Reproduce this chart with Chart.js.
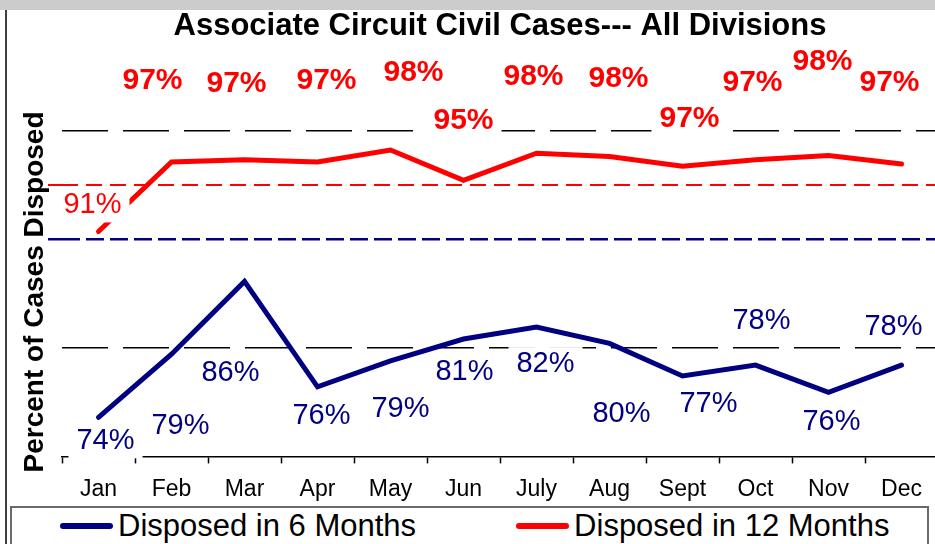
<!DOCTYPE html>
<html>
<head>
<meta charset="utf-8">
<title>Associate Circuit Civil Cases</title>
<script src="https://cdn.jsdelivr.net/npm/chart.js@4.4.1/dist/chart.umd.min.js"></script>
<style>
    html, body { margin: 0; padding: 0; background: #fff; overflow: hidden; }
    .wrap { position: relative; width: 938px; height: 544px; }
    #legend {
        position: absolute; left: 10px; top: 506px; width: 919px; height: 40px;
        box-sizing: border-box; border: 2px solid #6a6a6a; background: #fff;
        display: flex; align-items: center; padding-left: 48px;
        font-family: "Liberation Sans", Arial, sans-serif; font-size: 31px; color: #000;
    }
    #legend .item { display: flex; align-items: center; white-space: nowrap; }
    #legend .item + .item { margin-left: 100px; }
    #legend .swatch { width: 53px; height: 6px; border-radius: 3px; margin-right: 5px; }
</style>
</head>
<body>
<div class="wrap">
    <canvas id="line-chart" width="938" height="544"></canvas>
    <div id="legend"></div>
</div>
<script>
(function () {
    "use strict";

    // Data
    var months = ["Jan", "Feb", "Mar", "Apr", "May", "Jun", "July", "Aug", "Sept", "Oct", "Nov", "Dec"];
    var disposed6 = [73.6, 79.4, 86.1, 76.4, 78.8, 80.8, 81.9, 80.4, 77.4, 78.4, 75.9, 78.4];
    var disposed12 = [90.7, 97.1, 97.3, 97.1, 98.2, 95.4, 97.9, 97.6, 96.7, 97.3, 97.7, 96.9];
    var yMin = 70;
    var yMax = 106;

    // Label placement, pixels away from each point
    var offset6 = [[7, 24], [9, 72], [-14, 92], [4, 29], [10, 48], [1, 33], [9, 37], [12, 71], [26, 28], [6, -44], [3, 30], [-8, -38]];
    var offset12 = [[-6, -26], [-19, -81], [-8, -76], [9, -81], [23, -77], [0, -60], [-3, -76], [9, -78], [7, -48], [-3, -77], [-6, -94], [-12, -81]];
    var bold6 = [false, false, false, false, false, false, false, false, false, false, false, false];
    var bold12 = [false, true, true, true, true, true, true, true, true, true, true, true];

    var fontFamily = '"Liberation Sans", Arial, sans-serif';

    // Dashed reference lines
    var gridStyle = {
        80: { color: "#000000", width: 1.5, dash: [46, 15], edge: false },
        90: { color: "#000080", width: 2.5, dash: [18, 6], edge: true },
        95: { color: "#ff0000", width: 2, dash: [16, 8], edge: true },
        100: { color: "#000000", width: 1.5, dash: [46, 15], edge: false }
    };
    function styleFor(c) {
        return c && c.tick ? gridStyle[c.tick.value] : null;
    }

    // Point labels with white boxes
    var pointLabels = {
        id: "pointLabels",
        afterDatasetsDraw: function (chart) {
            var ctx = chart.ctx;
            ctx.save();
            ctx.textAlign = "center";
            ctx.textBaseline = "middle";
            chart.data.datasets.forEach(function (ds, i) {
                var meta = chart.getDatasetMeta(i);
                meta.data.forEach(function (pt, j) {
                    var text = Math.round(ds.data[j]) + "%";
                    ctx.font = (ds.labelBold[j] ? "bold 30px " : "29px ") + fontFamily;
                    var w = ctx.measureText(text).width + 16;
                    var x = pt.x + ds.labelOffset[j][0];
                    var y = pt.y + ds.labelOffset[j][1];
                    ctx.fillStyle = "#ffffff";
                    ctx.fillRect(x - w / 2, y - 17, w, 34);
                    ctx.fillStyle = ds.borderColor;
                    ctx.fillText(text, x, y);
                });
            });
            ctx.restore();
        }
    };

    // Frame, top band and the y axis title
    var frame = {
        id: "frame",
        beforeDraw: function (chart) {
            var ctx = chart.ctx;
            ctx.save();
            ctx.fillStyle = "#ffffff";
            ctx.fillRect(0, 0, chart.width, chart.height);
            ctx.fillStyle = "#cccccc";
            ctx.fillRect(0, 0, chart.width, 10);
            ctx.restore();
        },
        afterDraw: function (chart) {
            var ctx = chart.ctx;
            ctx.save();
            ctx.strokeStyle = "#404040";
            ctx.lineWidth = 2;
            ctx.beginPath();
            ctx.moveTo(6, 10);
            ctx.lineTo(6, chart.height);
            ctx.stroke();

            ctx.translate(35, 292);
            ctx.rotate(-Math.PI / 2);
            ctx.font = "bold 28px " + fontFamily;
            ctx.fillStyle = "#000000";
            ctx.textAlign = "center";
            ctx.textBaseline = "middle";
            ctx.fillText("Percent of Cases Disposed", 0, 0);
            ctx.restore();
        }
    };

    var ctx1 = document.getElementById("line-chart").getContext("2d");
    var myChart1 = new Chart(ctx1, {
        type: "line",
        data: {
            labels: months,
            datasets: [{
                label: "Disposed in 6 Months",
                data: disposed6,
                borderColor: "#000080",
                backgroundColor: "#000080",
                borderWidth: 5,
                borderCapStyle: "round",
                pointRadius: 0,
                tension: 0,
                fill: false,
                labelOffset: offset6,
                labelBold: bold6
            }, {
                label: "Disposed in 12 Months",
                data: disposed12,
                borderColor: "#ff0000",
                backgroundColor: "#ff0000",
                borderWidth: 5,
                borderCapStyle: "round",
                pointRadius: 0,
                tension: 0,
                fill: false,
                labelOffset: offset12,
                labelBold: bold12
            }]
        },
        options: {
            responsive: false,
            animation: false,
            devicePixelRatio: 1,
            layout: { padding: { left: 48, right: 0, top: 0, bottom: 29 } },
            plugins: {
                legend: { display: false },
                tooltip: { enabled: false },
                title: {
                    display: true,
                    fullSize: false,
                    text: "Associate Circuit Civil Cases--- All Divisions",
                    color: "#000000",
                    font: { family: fontFamily, size: 31, weight: "bold" },
                    padding: { top: 8, bottom: 20 }
                }
            },
            scales: {
                x: {
                    offset: true,
                    grid: {
                        offset: true,
                        drawOnChartArea: false,
                        drawTicks: true,
                        tickLength: 7,
                        tickColor: "#000000",
                        tickWidth: 1.5
                    },
                    border: { display: true, color: "#000000", width: 1.5 },
                    ticks: {
                        color: "#000000",
                        font: { family: fontFamily, size: 23 },
                        padding: 12,
                        maxRotation: 0,
                        autoSkip: false
                    }
                },
                y: {
                    min: yMin,
                    max: yMax,
                    ticks: { display: false, stepSize: 5 },
                    grid: {
                        drawTicks: true,
                        tickLength: 14,
                        color: function (c) {
                            var s = styleFor(c);
                            return s ? s.color : "rgba(0,0,0,0)";
                        },
                        lineWidth: function (c) {
                            var s = styleFor(c);
                            return s ? s.width : 0;
                        },
                        tickColor: function (c) {
                            var s = styleFor(c);
                            return s && s.edge ? s.color : "rgba(0,0,0,0)";
                        },
                        tickWidth: function (c) {
                            var s = styleFor(c);
                            return s ? s.width : 0;
                        },
                        tickBorderDash: function (c) {
                            var s = styleFor(c);
                            return s ? s.dash : [];
                        }
                    },
                    border: {
                        display: false,
                        dash: function (c) {
                            var s = styleFor(c);
                            return s ? s.dash : [];
                        }
                    }
                }
            }
        },
        plugins: [frame, pointLabels]
    });

    // Legend
    var legend = document.getElementById("legend");
    myChart1.data.datasets.forEach(function (ds) {
        var item = document.createElement("span");
        item.className = "item";
        var swatch = document.createElement("span");
        swatch.className = "swatch";
        swatch.style.background = ds.borderColor;
        item.appendChild(swatch);
        item.appendChild(document.createTextNode(ds.label));
        legend.appendChild(item);
    });
})();
</script>
</body>
</html>
